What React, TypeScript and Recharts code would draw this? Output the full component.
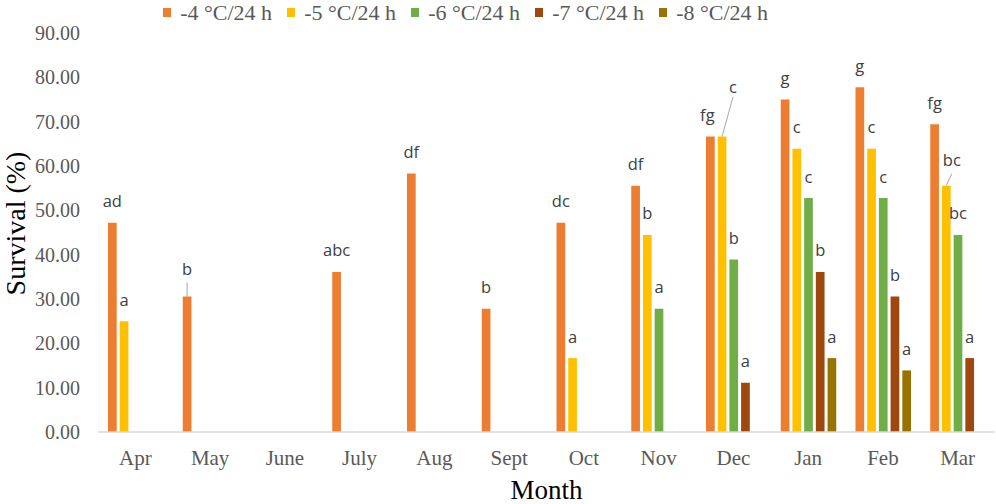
import React from 'react';
import { BarChart, Bar, XAxis, YAxis, LabelList } from 'recharts';

const months = ['Apr', 'May', 'June', 'July', 'Aug', 'Sept', 'Oct', 'Nov', 'Dec', 'Jan', 'Feb', 'Mar'];
const seriesNames = ['-4 °C/24 h', '-5 °C/24 h', '-6 °C/24 h', '-7 °C/24 h', '-8 °C/24 h'];
const seriesColors = ['#ED7D31', '#FFC000', '#70AD47', '#9E480E', '#997300'];

const survivalMinus4 = [47.22, 30.56, null, 36.11, 58.33, 27.78, 47.22, 55.56, 66.67, 75.0, 77.78, 69.44];
const survivalMinus5 = [25.0, null, null, null, null, null, 16.67, 44.44, 66.67, 63.89, 63.89, 55.56];
const survivalMinus6 = [null, null, null, null, null, null, null, 27.78, 38.89, 52.78, 52.78, 44.44];
const survivalMinus7 = [null, null, null, null, null, null, null, null, 11.11, 36.11, 30.56, 16.67];
const survivalMinus8 = [null, null, null, null, null, null, null, null, null, 16.67, 13.89, null];

const lettersMinus4 = ['ad', 'b', null, 'abc', 'df', 'b', 'dc', 'df', 'fg', 'g', 'g', 'fg'];
const lettersMinus5 = ['a', null, null, null, null, null, 'a', 'b', 'c', 'c', 'c', 'bc'];
const lettersMinus6 = [null, null, null, null, null, null, null, 'a', 'b', 'c', 'c', 'bc'];
const lettersMinus7 = [null, null, null, null, null, null, null, null, 'a', 'b', 'b', 'a'];
const lettersMinus8 = [null, null, null, null, null, null, null, null, null, 'a', 'a', null];

const yTicks = [0, 10, 20, 30, 40, 50, 60, 70, 80, 90];

const seriesValues = [survivalMinus4, survivalMinus5, survivalMinus6, survivalMinus7, survivalMinus8];
const seriesLetters = [lettersMinus4, lettersMinus5, lettersMinus6, lettersMinus7, lettersMinus8];

const data = months.map((m, i) => {
  const row: any = { month: m };
  seriesValues.forEach((vals, s) => {
    row['s' + s] = vals[i];
    const letter = seriesLetters[s][i];
    row['l' + s] = letter ? `${letter}|${i}` : null;
  });
  return row;
});

// label placement tweaks (like Excel's manually moved labels with leader lines)
const labelNudges: Record<string, { dx: number; dy: number; leader?: number }> = {
  '0-1': { dx: 0, dy: -6.5, leader: 8 },
  '0-8': { dx: -3, dy: 0 },
  '1-8': { dx: 11, dy: -28, leader: 4 },
  '1-11': { dx: 5.5, dy: -4.5, leader: 8 },
};

const SERIF = '"Liberation Serif", "Times New Roman", serif';
const SANS = '"Open Sans", "DejaVu Sans", sans-serif';

const makeLabel = (s: number) => (props: any) => {
  const { x, y, width, value } = props;
  if (value == null || x == null || y == null) return null;
  const [text, idxStr] = String(value).split('|');
  const idx = Number(idxStr);
  if (!text || seriesValues[s][idx] == null) return null;
  const n = labelNudges[`${s}-${idx}`] || { dx: 0, dy: 0 };
  const cx = Number(x) + Number(width) / 2;
  const top = Number(y);
  const tx = cx + n.dx;
  const baseline = top - 15.5 + n.dy;
  return (
    <g key={`lbl-${s}-${idx}`}>
      {n.leader != null && (
        <line x1={cx} y1={top} x2={tx} y2={baseline + n.leader} stroke="#A6A6A6" strokeWidth={1} />
      )}
      <text x={tx} y={baseline} textAnchor="middle" fontFamily={SANS} fontSize={16.5} fill="#404040">
        {text}
      </text>
    </g>
  );
};

const YLabel = (props: any) => {
  const vb = props.viewBox || {};
  const cx = 15;
  const cy = (vb.y ?? 33) + (vb.height ?? 399) / 2 - 9;
  return (
    <text
      x={cx}
      y={cy}
      transform={`rotate(-90, ${cx}, ${cy})`}
      textAnchor="middle"
      dominantBaseline="central"
      fontFamily={SERIF}
      fontSize={28}
      fill="#000000"
    >
      Survival (%)
    </text>
  );
};

export default function App() {
  return (
    <div style={{ position: 'absolute', left: 0, top: 0, width: 996, height: 504, background: '#ffffff' }}>
      <BarChart
        width={996}
        height={504}
        data={data}
        margin={{ top: 33, right: 1, left: 0, bottom: 0 }}
        barSize={8.7}
        barGap={3}
      >
        <XAxis
          dataKey="month"
          height={72}
          tickLine={false}
          axisLine={{ stroke: '#D9D9D9', strokeWidth: 1.5 }}
          tickMargin={12}
          tick={{ fontFamily: SERIF, fontSize: 21, fill: '#595959' }}
          interval={0}
          label={{
            value: 'Month',
            position: 'insideBottom',
            offset: 5,
            style: { fontFamily: SERIF, fontSize: 27, fill: '#000000' },
          }}
        />
        <YAxis
          domain={[0, 90]}
          ticks={yTicks}
          width={98}
          axisLine={false}
          tickLine={false}
          tickMargin={12}
          tickFormatter={(v: number) => v.toFixed(2)}
          tick={{ fontFamily: SERIF, fontSize: 20, fill: '#595959' }}
          label={{ content: YLabel }}
        />
        {seriesNames.map((name, s) => (
          <Bar key={name} dataKey={'s' + s} name={name} fill={seriesColors[s]} isAnimationActive={false}>
            <LabelList dataKey={'l' + s} content={makeLabel(s)} />
          </Bar>
        ))}
      </BarChart>
      <div
        style={{
          position: 'absolute',
          left: 162.7,
          top: 0,
          height: 25,
          display: 'flex',
          alignItems: 'center',
          fontFamily: SERIF,
          fontSize: 22,
          color: '#595959',
          whiteSpace: 'nowrap',
        }}
      >
        {seriesNames.map((name, s) => (
          <div key={name} style={{ width: 124, display: 'flex', alignItems: 'center' }}>
            <span style={{ width: 8.5, height: 8.5, background: seriesColors[s], marginRight: 9, display: 'inline-block' }} />
            <span>{name}</span>
          </div>
        ))}
      </div>
    </div>
  );
}
